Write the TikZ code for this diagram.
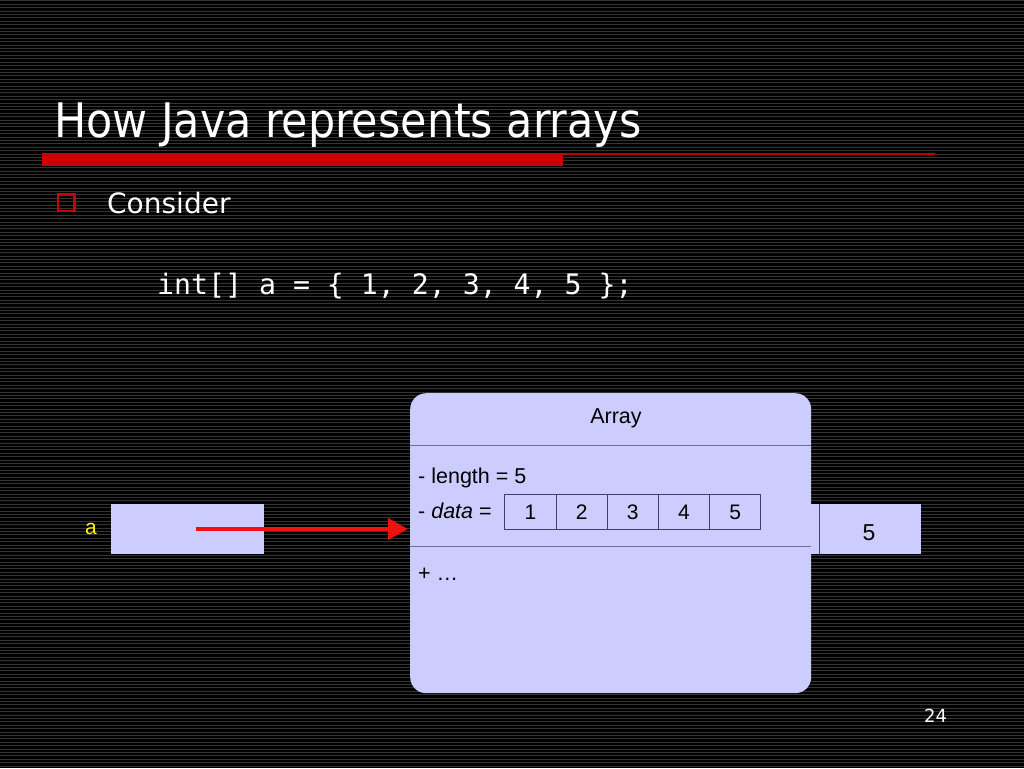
\documentclass[tikz,border=0pt]{standalone}
\usepackage{fontspec}
\setmainfont{Liberation Sans}
\newfontfamily\slidefont{DejaVu Sans Condensed}
\newfontfamily\bodyfont{DejaVu Sans}
\newfontfamily\codefont{DejaVu Sans Mono}
\usetikzlibrary{arrows.meta}
\definecolor{lav}{RGB}{204,204,255}
\definecolor{divln}{RGB}{112,112,150}
\definecolor{cellln}{RGB}{64,64,100}
\definecolor{barred}{RGB}{204,0,0}
\definecolor{thinred}{RGB}{190,0,0}
\definecolor{arrred}{RGB}{240,16,16}
\definecolor{stripe}{RGB}{52,52,52}
\tikzset{
  txt/.style={inner sep=0pt, anchor=base west, text=white},
  uml/.style={inner sep=0pt, anchor=base west, text=black, font=\fontsize{21.5}{24}\selectfont},
  cellbox/.style={draw=cellln, line width=1pt, fill=lav, minimum width=51.2pt, minimum height=35pt, inner sep=0pt, anchor=north west, font=\fontsize{21}{24}\selectfont},
  stripeln/.style={draw=stripe, line width=1pt},
}
\begin{document}
\begin{tikzpicture}[x=1pt,y=-1pt]
\fill[black] (0,0) rectangle (1024,768);
\useasboundingbox (0,0) rectangle (1024,768);
\foreach \i in {0,...,225} \draw[stripeln] (0,{1+3.4*\i}) -- (1024,{1+3.4*\i});
% title
\node[txt, font=\slidefont\fontsize{47.6}{50}\selectfont] (title) at (54,137) {How Java represents arrays};
\draw[thinred, line width=1.4pt] (42,154) -- (935,154);
\fill[barred] (42,153) rectangle (563,166);
% bullet
\node[draw=barred, line width=2.5pt, minimum size=16.5pt, inner sep=0pt] (bullet) at (66,202.5) {};
\node[txt, font=\bodyfont\fontsize{28}{32}\selectfont] (consider) at (107,213) {Consider};
\node[txt, font=\codefont\fontsize{28.2}{32}\selectfont] (code) at (157,294) {int[] a = \{ 1, 2, 3, 4, 5 \};};
% hidden array cells behind
\node[fill=lav, minimum width=115.5pt, minimum height=50pt, inner sep=0pt, anchor=north west] (rbox) at (805,504) {};
\draw[cellln, line width=1pt] (819,504) -- (819,554);
\node[inner sep=0pt, anchor=base, font=\fontsize{23}{26}\selectfont] (rfive) at (869,540) {5};
% variable a
\node[fill=lav, minimum width=153pt, minimum height=50pt, inner sep=0pt, anchor=north west] (abox) at (111,504) {};
\node[inner sep=0pt, anchor=base west, text=yellow, font=\fontsize{21}{24}\selectfont] (alabel) at (85,534) {a};
% Array object
\node[fill=lav, rounded corners=16pt, minimum width=401pt, minimum height=300pt, inner sep=0pt, anchor=north west] (arr) at (410,393) {};
\node[inner sep=0pt, anchor=base, font=\fontsize{21.5}{24}\selectfont] (arrtitle) at (616,423) {Array};
\draw[divln, line width=1pt] (410,445.5) -- (811,445.5);
\draw[divln, line width=1pt] (410,546) -- (811,546);
\node[uml] (len) at (418,483) {- length = 5};
\node[uml] (dat) at (418,518) {- \textit{data} =};
\foreach \k [count=\n from 0] in {1,2,3,4,5}
  \node[cellbox] (c\k) at ({504.3+51.2*\n},494.3) {\k};
\node[uml] (ops) at (418,580) {+ \dots};
% reference arrow
\coordinate (astart) at (196,529);
\draw[arrred, line width=4pt, -{Triangle[length=20pt,width=21pt]}, shorten >=2pt] (astart) -- (arr.west |- astart);
% page number
\node[txt, font=\bodyfont\fontsize{18}{22}\selectfont] (pnum) at (924,722) {24};
\end{tikzpicture}
\end{document}
